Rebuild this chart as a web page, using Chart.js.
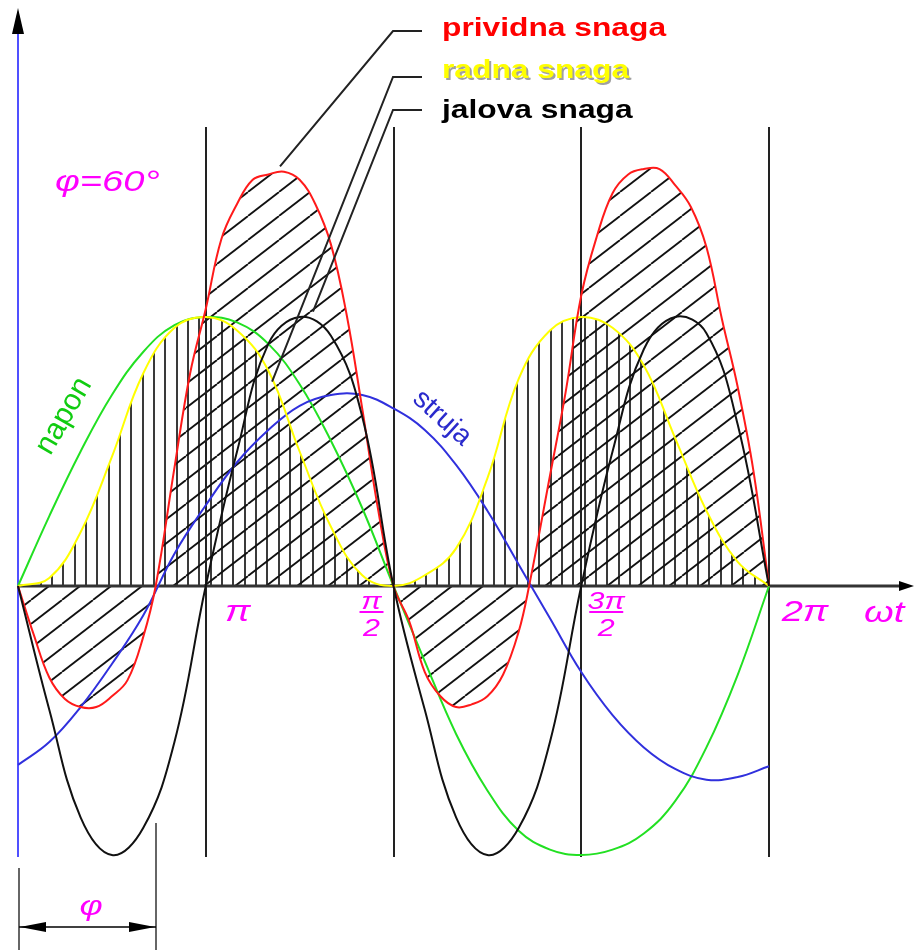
<!DOCTYPE html>
<html lang="hr">
<head>
<meta charset="UTF-8">
<title>Snaga izmjenične struje</title>
<script src="https://cdn.jsdelivr.net/npm/chart.js"></script>
<style>
    html, body { margin: 0; padding: 0; background: #fff; }
    #wrap { width: 914px; height: 950px; position: relative; }
</style>
</head>
<body>
<div id="wrap"><canvas id="snagaChart"></canvas></div>
<script>
    // kut ωt u stupnjevima
    var kut = [0, 15, 30, 45, 60, 75, 90, 105, 120, 135, 150, 165, 180,
               195, 210, 225, 240, 255, 270, 285, 300, 315, 330, 345, 360];

    var napon  = [0, 0.26, 0.5, 0.71, 0.87, 0.97, 1, 0.98, 0.9, 0.75, 0.54, 0.29, 0,
                  -0.28, -0.55, -0.76, -0.91, -0.98, -1, -0.98, -0.92, -0.8, -0.6, -0.33, 0];
    var struja = [-0.665, -0.58, -0.45, -0.29, -0.11, 0.12, 0.3, 0.46, 0.58, 0.67, 0.71, 0.71, 0.66,
                  0.58, 0.45, 0.28, 0.08, -0.12, -0.32, -0.48, -0.6, -0.68, -0.72, -0.71, -0.67];
    var radna  = [0, 0.03, 0.2, 0.48, 0.79, 0.96, 1, 0.95, 0.8, 0.5, 0.22, 0.04, 0,
                  0.04, 0.14, 0.4, 0.77, 0.95, 1, 0.96, 0.82, 0.55, 0.28, 0.09, 0];
    var jalova = [0, -0.46, -0.86, -1, -0.9, -0.58, 0, 0.5, 0.9, 1, 0.93, 0.63, 0,
                  -0.46, -0.86, -1, -0.9, -0.58, 0, 0.5, 0.88, 1, 0.94, 0.6, 0];

    // prividna snaga ima strme bokove pa je zadana gušće
    var kutPrividna = [0, 7.5, 15, 22.5, 30, 37.5, 45, 52.5, 60, 66, 75, 82.5, 90, 97.5, 105, 112.5,
                       120, 127.5, 135, 142.5, 150, 157.5, 165, 172.5, 180,
                       187.5, 195, 202.5, 210, 217.5, 225, 232.5, 240, 245, 255, 262.5, 270, 277.5,
                       285, 292.5, 300, 307.5, 315, 322.5, 330, 337.5, 345, 352.5, 360];
    var prividna = [0, -0.18, -0.34, -0.42, -0.45, -0.45, -0.41, -0.35, -0.19, 0, 0.44, 0.79, 1.03,
                    1.29, 1.42, 1.51, 1.53, 1.54, 1.51, 1.42, 1.27, 1.01, 0.66, 0.29, 0,
                    -0.13, -0.32, -0.41, -0.45, -0.44, -0.41, -0.33, -0.17, 0, 0.41, 0.72, 1.08,
                    1.3, 1.46, 1.53, 1.55, 1.55, 1.49, 1.41, 1.26, 0.99, 0.74, 0.43, 0];

    // oznake na osi ωt
    var oznakeKut = [90, 180, 270, 360];
    var oznakeBrojnik = ['π', 'π', '3π', '2π'];
    var oznakeNazivnik = ['', '2', '2', ''];
    var pomakOznake = [32, -22, 25, 36];

    var fiKut = 66;   // kraj kotirane mjere φ

    var SX = 1.27;    // crtež je razvučen vodoravno
    var FONT = '"Liberation Sans", Arial, sans-serif';
    var MAGENTA = '#ff00ff';

    function tocke(xs, ys) {
        return xs.map(function (x, i) { return { x: x, y: ys[i] }; });
    }

    function vertikalniSraf() {
        var c = document.createElement('canvas');
        c.width = 34; c.height = 8;
        var g = c.getContext('2d');
        g.fillStyle = '#3a3a3a';
        [6, 17, 28].forEach(function (x) { g.fillRect(x, 0, 2, 8); });
        return g.createPattern(c, 'repeat');
    }

    function kosiSraf() {
        var c = document.createElement('canvas');
        c.width = 31; c.height = 24;
        var g = c.getContext('2d');
        g.strokeStyle = '#111';
        g.lineWidth = 1.8;
        [-31, 0, 31].forEach(function (dx) {
            g.beginPath(); g.moveTo(dx, 24); g.lineTo(dx + 31, 0); g.stroke();
        });
        return g.createPattern(c, 'repeat');
    }

    function crta(ctx, x1, y1, x2, y2) {
        ctx.beginPath(); ctx.moveTo(x1, y1); ctx.lineTo(x2, y2); ctx.stroke();
    }

    function trokut(ctx, ax, ay, bx, by, cx, cy) {
        ctx.beginPath(); ctx.moveTo(ax, ay); ctx.lineTo(bx, by); ctx.lineTo(cx, cy); ctx.closePath(); ctx.fill();
    }

    function tekst(ctx, str, x, y, font, boja, poravnanje) {
        ctx.save();
        ctx.translate(x, y);
        ctx.scale(SX, 1);
        ctx.font = font;
        ctx.fillStyle = boja;
        ctx.textAlign = poravnanje || 'left';
        ctx.textBaseline = 'alphabetic';
        ctx.fillText(str, 0, 0);
        ctx.restore();
    }

    function zakrenutiTekst(ctx, str, cx, cy, kutStup, font, boja, podloga) {
        ctx.save();
        ctx.translate(cx, cy);
        ctx.rotate(kutStup * Math.PI / 180);
        ctx.font = font;
        ctx.textAlign = 'center';
        ctx.textBaseline = 'middle';
        if (podloga) {
            var w = ctx.measureText(str).width;
            ctx.fillStyle = '#fff';
            ctx.fillRect(-w / 2 - 2, -12, w + 4, 24);
        } else {
            ctx.fillStyle = boja;
            ctx.fillText(str, 0, 0);
        }
        ctx.restore();
    }

    var crtez = {
        id: 'crtez',
        beforeDatasetsDraw: function (chart) {
            var ctx = chart.ctx, xs = chart.scales.x, ys = chart.scales.y;
            var x0 = xs.getPixelForValue(0), y0 = Math.round(ys.getPixelForValue(0));
            ctx.save();

            // okomice na π/2, π, 3π/2 i 2π
            ctx.strokeStyle = '#222';
            ctx.lineWidth = 2;
            oznakeKut.forEach(function (d) {
                var px = Math.round(xs.getPixelForValue(d));
                crta(ctx, px, 127, px, 857);
            });

            // os y
            ctx.strokeStyle = '#5050ff';
            ctx.lineWidth = 2;
            crta(ctx, x0, 30, x0, 857);
            ctx.fillStyle = '#000';
            trokut(ctx, x0, 8, x0 - 6, 34, x0 + 6, 34);

            // os ωt
            ctx.strokeStyle = '#333';
            ctx.lineWidth = 3;
            crta(ctx, x0, y0, 902, y0);
            trokut(ctx, 914, y0, 899, y0 - 5, 899, y0 + 5);

            // bijela podloga ispod natpisa
            zakrenutiTekst(ctx, 'napon', 64, 416, -60, '30px ' + FONT, '', true);
            zakrenutiTekst(ctx, 'struja', 442, 418, 42, '28px ' + FONT, '', true);
            ctx.restore();
        },
        afterDatasetsDraw: function (chart) {
            var ctx = chart.ctx, xs = chart.scales.x, ys = chart.scales.y;
            var x0 = xs.getPixelForValue(0);
            ctx.save();

            // pokazne linije prema krivuljama
            var pokazivaci = [
                { kut: 125.6, vr: 1.56, y: 31 },
                { kut: 121.8, vr: 0.76, y: 77 },
                { kut: 141.4, vr: 1.02, y: 110 }
            ];
            ctx.strokeStyle = '#222';
            ctx.lineWidth = 2;
            pokazivaci.forEach(function (p) {
                ctx.beginPath();
                ctx.moveTo(xs.getPixelForValue(p.kut), ys.getPixelForValue(p.vr));
                ctx.lineTo(393, p.y);
                ctx.lineTo(422, p.y);
                ctx.stroke();
            });

            // legenda
            var bold = 'bold 25px ' + FONT;
            tekst(ctx, 'prividna snaga', 442, 36, bold, '#ff0000');
            tekst(ctx, 'radna snaga', 444, 80, bold, '#a0a0a0');
            tekst(ctx, 'radna snaga', 442, 78, bold, '#ffff00');
            tekst(ctx, 'jalova snaga', 442, 118, bold, '#000');

            // natpisi krivulja
            zakrenutiTekst(ctx, 'napon', 64, 416, -60, '30px ' + FONT, '#11cc11');
            zakrenutiTekst(ctx, 'struja', 442, 418, 42, '28px ' + FONT, '#2a2acc');

            // φ = 60°
            var ital = 'italic 30px ' + FONT;
            var italMali = 'italic 24px ' + FONT;
            tekst(ctx, 'φ=60°', 55, 191, ital, MAGENTA);

            // oznake osi ωt
            ctx.strokeStyle = MAGENTA;
            ctx.lineWidth = 2;
            oznakeKut.forEach(function (d, i) {
                var cx = xs.getPixelForValue(d) + pomakOznake[i];
                if (oznakeNazivnik[i]) {
                    tekst(ctx, oznakeBrojnik[i], cx, 609, italMali, MAGENTA, 'center');
                    var pola = oznakeBrojnik[i].length > 1 ? 17 : 12;
                    crta(ctx, cx - pola, 612, cx + pola, 612);
                    tekst(ctx, oznakeNazivnik[i], cx, 636, italMali, MAGENTA, 'center');
                } else {
                    tekst(ctx, oznakeBrojnik[i], cx, 621, ital, MAGENTA, 'center');
                }
            });
            tekst(ctx, 'ωt', 864, 622, ital, MAGENTA);

            // kotirana mjera φ
            var xr = Math.round(xs.getPixelForValue(fiKut));
            ctx.strokeStyle = '#666';
            ctx.lineWidth = 2;
            crta(ctx, x0 + 1, 868, x0 + 1, 950);
            crta(ctx, xr, 823, xr, 950);
            ctx.strokeStyle = '#000';
            ctx.lineWidth = 1.5;
            crta(ctx, x0 + 1, 927, xr, 927);
            ctx.fillStyle = '#000';
            trokut(ctx, x0 + 2, 927, x0 + 28, 922, x0 + 28, 932);
            trokut(ctx, xr - 1, 927, xr - 27, 922, xr - 27, 932);
            tekst(ctx, 'φ', (x0 + xr) / 2 + 4, 915, 'italic 28px ' + FONT, MAGENTA, 'center');

            ctx.restore();
        }
    };

    var PX_STUP = 751 / 360;   // piksela po stupnju
    var PX_JED = 269;          // piksela po jedinici amplitude

    function krivulja(oznaka, xs, ys, boja, ispuna) {
        return {
            label: oznaka,
            data: tocke(xs, ys),
            borderColor: boja,
            borderWidth: 2,
            pointRadius: 0,
            tension: 0.4,
            fill: ispuna ? 'origin' : false,
            backgroundColor: ispuna || 'transparent'
        };
    }

    window.addEventListener('DOMContentLoaded', function () {
        var ctx = document.getElementById('snagaChart').getContext('2d');
        new Chart(ctx, {
            type: 'line',
            data: {
                datasets: [
                    krivulja('jalova snaga', kut, jalova, '#111'),
                    krivulja('prividna snaga', kutPrividna, prividna, '#ff1a1a', kosiSraf()),
                    krivulja('radna snaga', kut, radna, '#ffff00', vertikalniSraf()),
                    krivulja('struja', kut, struja, '#3030dd'),
                    krivulja('napon', kut, napon, '#22e022')
                ]
            },
            options: {
                responsive: true,
                maintainAspectRatio: false,
                animation: false,
                layout: { padding: 0 },
                scales: {
                    x: { type: 'linear', display: false, min: -18 / PX_STUP, max: (914 - 18) / PX_STUP },
                    y: { type: 'linear', display: false, min: -(950 - 586) / PX_JED, max: 586 / PX_JED }
                },
                plugins: {
                    legend: { display: false },
                    tooltip: { enabled: false },
                    filler: { drawTime: 'beforeDatasetsDraw' }
                }
            },
            plugins: [crtez]
        });
    });
</script>
</body>
</html>
